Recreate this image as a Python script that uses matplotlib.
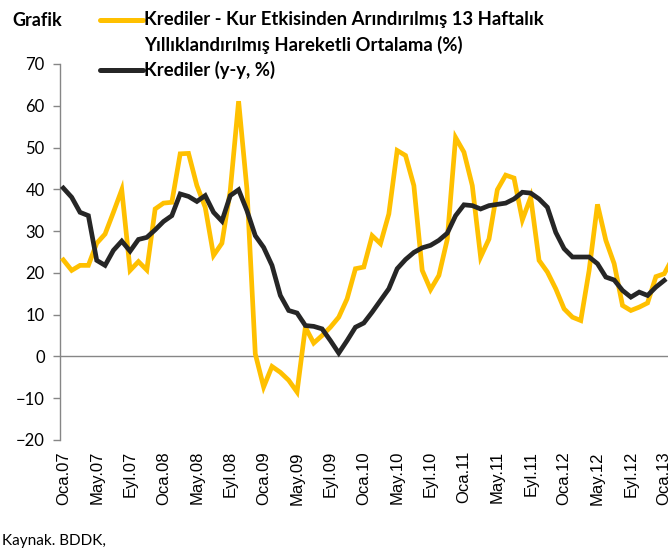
import numpy as np
import matplotlib
matplotlib.use("Agg")
import matplotlib.pyplot as plt
from matplotlib.lines import Line2D

# monthly, Oca.07 .. Şub.13 (yellow), Oca.07 .. Oca.13 (black)
kur_etkisiz = [23.1, 20.6, 21.8, 21.8, 27.1, 29.3, 34.5, 39.9, 20.6, 22.7,
               20.7, 35.3, 36.7, 36.9, 48.5, 48.6, 40.9, 35.7, 24.2, 27.1,
               39.7, 61.1, 40.0, 0.6, -7.3, -2.4, -3.8, -5.7, -8.5, 7.0,
               3.2, 5.0, 7.0, 9.4, 13.8, 21.0, 21.4, 28.9, 27.0, 34.1,
               49.3, 48.1, 40.9, 20.6, 16.0, 19.4, 28.0, 52.4, 48.9, 40.9,
               23.8, 28.1, 39.9, 43.4, 42.7, 32.7, 38.1, 23.0, 20.2, 16.2,
               11.4, 9.4, 8.6, 20.6, 36.4, 27.8, 22.2, 12.2, 11.0, 11.8,
               12.8, 19.1, 19.8, 23.5]
krediler_yy = [40.3, 38.1, 34.5, 33.7, 23.0, 21.8, 25.4, 27.6, 25.2, 28.0,
               28.5, 30.3, 32.3, 33.7, 38.9, 38.3, 37.1, 38.5, 34.5, 32.4,
               38.5, 39.9, 34.9, 28.9, 26.1, 21.8, 14.6, 11.0, 10.4, 7.4,
               7.2, 6.6, 3.8, 0.8, 3.8, 7.0, 8.0, 10.6, 13.4, 16.2,
               21.0, 23.2, 24.9, 26.0, 26.6, 27.8, 29.5, 33.7, 36.3, 36.1,
               35.3, 36.1, 36.4, 36.7, 37.7, 39.3, 39.1, 37.7, 35.7, 29.7,
               25.8, 23.8, 23.8, 23.8, 22.2, 19.0, 18.3, 15.8, 14.2, 15.4,
               14.6, 16.6, 18.2]
tick_labels = ["Oca.07", "May.07", "Eyl.07", "Oca.08", "May.08", "Eyl.08",
               "Oca.09", "May.09", "Eyl.09", "Oca.10", "May.10", "Eyl.10",
               "Oca.11", "May.11", "Eyl.11", "Oca.12", "May.12", "Eyl.12",
               "Oca.13"]
legend_yellow_1 = "Krediler - Kur Etkisinden Arındırılmış 13 Haftalık"
legend_yellow_2 = "Yıllıklandırılmış Hareketli Ortalama (%)"
legend_black = "Krediler (y-y, %)"

YELLOW = "#FFC000"
BLACK = "#262626"
GRAY = "#868686"

fig = plt.figure(figsize=(6.68, 5.53), dpi=100)
ax = fig.add_axes([60/668, 1-440/553, 1-60/668, 376/553])

x1 = np.arange(len(kur_etkisiz))
x2 = np.arange(len(krediler_yy))
ax.plot(x1, kur_etkisiz, color=YELLOW, lw=3.4, solid_joinstyle="miter", zorder=3)
ax.plot(x2, krediler_yy, color=BLACK, lw=3.4, solid_joinstyle="miter", zorder=4)

ax.set_xlim(-0.4, 72.45)
ax.set_ylim(-20, 70)
ax.axhline(0, color=GRAY, lw=1.0, zorder=2)

for s in ["top", "right", "bottom"]:
    ax.spines[s].set_visible(False)
ax.spines["left"].set_color(GRAY)
ax.spines["left"].set_linewidth(1.0)

ax.set_yticks(range(-20, 71, 10))
ax.tick_params(axis="y", direction="out", length=5, color=GRAY, width=1,
               labelsize=12, pad=6)
for t in ax.get_yticklabels():
    t.set_family("Lato")

ax.set_xticks(np.arange(0, 73, 4))
ax.set_xticklabels(tick_labels, rotation=90, family="Liberation Sans", fontsize=12)
ax.tick_params(axis="x", length=0, pad=8)

# legend drawn by hand at the top
fig.text(12/668, 1-20/553, "Grafik", family="Lato", fontweight="bold",
         fontsize=13, va="center", ha="left")
fig.add_artist(Line2D([100/668, 143/668], [1-20/553, 1-20/553], color=YELLOW,
                      lw=3.6, solid_capstyle="round"))
fig.add_artist(Line2D([100/668, 143/668], [1-70/553, 1-70/553], color=BLACK,
                      lw=3.6, solid_capstyle="round"))
fig.text(144/668, 1-20/553, legend_yellow_1, family="Lato", fontweight="bold",
         fontsize=13.3, va="center", ha="left")
fig.text(144/668, 1-45/553, legend_yellow_2, family="Lato", fontweight="bold",
         fontsize=13.3, va="center", ha="left")
fig.text(144/668, 1-70/553, legend_black, family="Lato", fontweight="bold",
         fontsize=13.3, va="center", ha="left")

fig.text(2/668, 1-541/553, "Kaynak. BDDK,", family="Lato", fontsize=11,
         va="center", ha="left")

fig.savefig("out.png", dpi=100)
